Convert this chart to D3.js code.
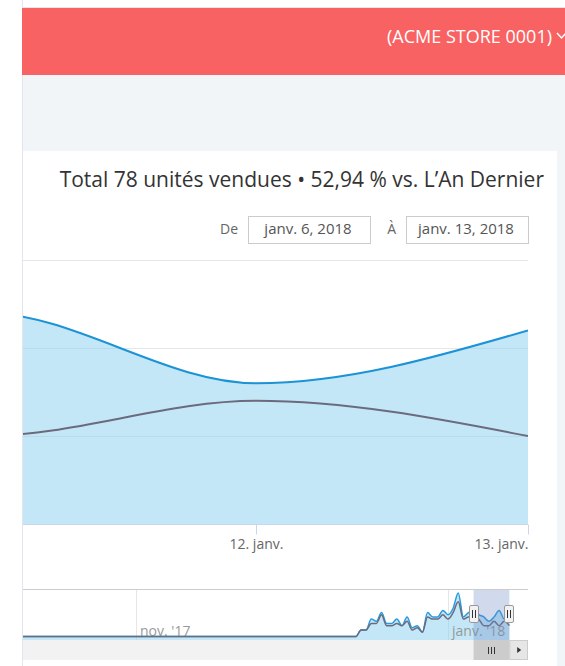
<!DOCTYPE html>
<html>
<head>
<meta charset="utf-8">
<script src="https://cdn.jsdelivr.net/npm/d3@7"></script>
<style>
  body { margin: 0; background: #fff; }
  svg { display: block; font-family: "Open Sans", sans-serif; }
</style>
</head>
<body>
<div id="chart"></div>
<script>
// daily units sold, one value per day starting at firstDay
var firstDay = "2017-12-14";
var unitsThisYear = [0, 3, 3, 8, 7, 11, 6, 6, 8, 5, 9, 4, 5, 2, 11, 9, 9, 12, 10, 13, 20, 9, 11, 12, 10, 9, 7, 9, 12, 8, 11];
var unitsLastYear = [0, 3, 3, 6, 6, 10, 5, 5, 6, 5, 7, 3, 4, 2, 9, 8, 8, 10, 8, 11, 16, 8, 9, 9, 8, 5, 5, 7, 5, 7, 5];
// no sales at all before firstDay
var historyStart = "2017-09-01";

var rangeFrom = "2018-01-06";
var rangeTo = "2018-01-13";
var storeName = "(ACME STORE 0001)";
var yTicks = [0, 5, 10, 15];
var navTicks = ["2017-11-01", "2018-01-01"];
var moisCourts = ["janv.", "févr.", "mars", "avr.", "mai", "juin", "juil.", "août", "sept.", "oct.", "nov.", "déc."];

var parseDate = d3.timeParse("%Y-%m-%d");
var day0 = parseDate(firstDay);

// build the two series as {date, value} rows
var thisYear = [{ date: parseDate(historyStart), value: 0 }];
var lastYear = [{ date: parseDate(historyStart), value: 0 }];
unitsThisYear.forEach(function(v, i) {
    thisYear.push({ date: d3.timeDay.offset(day0, i), value: v });
});
unitsLastYear.forEach(function(v, i) {
    lastYear.push({ date: d3.timeDay.offset(day0, i), value: v });
});

var from = parseDate(rangeFrom);
var to = parseDate(rangeTo);
var inRange = d => d.date >= from && d.date <= to;
var total = d3.sum(thisYear.filter(inRange), d => d.value);
var totalLast = d3.sum(lastYear.filter(inRange), d => d.value);
var pct = ((total / totalLast - 1) * 100).toFixed(2).replace(".", ",");

var svgWidth = 565;
var svgHeight = 666;

var svg = d3.select("#chart")
    .append("svg")
    .attr("width", svgWidth)
    .attr("height", svgHeight);

// page background, header and white panel
svg.append("rect").attr("width", svgWidth).attr("height", svgHeight).attr("fill", "#fff");
svg.append("rect").attr("x", 22).attr("y", 8).attr("width", 543).attr("height", 658).attr("fill", "#f2f5f8");
svg.append("line").attr("x1", 22.5).attr("x2", 22.5).attr("y1", 0).attr("y2", svgHeight).attr("stroke", "#e1e6ec");
svg.append("line").attr("x1", 22).attr("x2", svgWidth).attr("y1", 7.5).attr("y2", 7.5).attr("stroke", "#e1e6ec");
svg.append("rect").attr("x", 22).attr("y", 8).attr("width", 543).attr("height", 67).attr("fill", "#f96262");

svg.append("text")
    .attr("x", 552).attr("y", 43)
    .attr("text-anchor", "end")
    .attr("fill", "#fff")
    .attr("font-size", "18px")
    .text(storeName);
svg.append("path")
    .attr("d", "M557,33 L561.5,38 L566,33")
    .attr("fill", "none").attr("stroke", "#fff").attr("stroke-width", 1.5);

svg.append("rect").attr("x", 23).attr("y", 151).attr("width", 534).attr("height", 515).attr("fill", "#fff");

// title and date range boxes
svg.append("text")
    .attr("x", 544).attr("y", 187)
    .attr("text-anchor", "end")
    .attr("fill", "#333")
    .attr("font-size", "21px")
    .text("Total " + total + " unités vendues • " + pct + " % vs. L’An Dernier");

function longDate(d) {
    return moisCourts[d.getMonth()] + " " + d.getDate() + ", " + d.getFullYear();
}

var boxes = [
    { label: "De", labelX: 238, x: 248, date: from },
    { label: "À", labelX: 396, x: 406, date: to }
];
boxes.forEach(function(b) {
    svg.append("text")
        .attr("x", b.labelX).attr("y", 234)
        .attr("text-anchor", "end")
        .attr("fill", "#666")
        .attr("font-size", "14px")
        .text(b.label);
    svg.append("rect")
        .attr("x", b.x + 0.5).attr("y", 216.5)
        .attr("width", 122).attr("height", 27)
        .attr("fill", "#fff").attr("stroke", "#ccc");
    svg.append("text")
        .attr("x", b.x + 60).attr("y", 234)
        .attr("text-anchor", "middle")
        .attr("fill", "#555")
        .attr("font-size", "15px")
        .text(longDate(b.date));
});

// main chart
var plotLeft = 23, plotRight = 528, plotTop = 260, plotBottom = 524;

var xScale = d3.scaleTime()
    .domain([parseDate("2018-01-12"), parseDate("2018-01-13")])
    .range([256, 528]);
var yScale = d3.scaleLinear()
    .domain([0, 15])
    .range([plotBottom, plotTop]);

svg.append("clipPath").attr("id", "plotClip")
    .append("rect")
    .attr("x", plotLeft).attr("y", plotTop - 10)
    .attr("width", plotRight - plotLeft).attr("height", plotBottom - plotTop + 10);

// gridlines
var grid = svg.append("g")
    .attr("transform", `translate(${plotLeft}, 0)`)
    .call(d3.axisLeft(yScale).tickValues(yTicks).tickSize(-(plotRight - plotLeft)).tickFormat(""));
grid.select(".domain").remove();
grid.selectAll("line").attr("stroke", "#e6e6e6");

var plot = svg.append("g").attr("clip-path", "url(#plotClip)");

var area = d3.area()
    .x(d => xScale(d.date))
    .y0(yScale(0))
    .y1(d => yScale(d.value))
    .curve(d3.curveMonotoneX);
var line = d3.line()
    .x(d => xScale(d.date))
    .y(d => yScale(d.value))
    .curve(d3.curveMonotoneX);

plot.append("path")
    .datum(thisYear)
    .attr("d", area)
    .attr("fill", "#87cfee")
    .attr("fill-opacity", 0.5);
plot.append("path")
    .datum(thisYear)
    .attr("d", line)
    .attr("fill", "none")
    .attr("stroke", "#1b93d6")
    .attr("stroke-width", 2);
plot.append("path")
    .datum(lastYear)
    .attr("d", line)
    .attr("fill", "none")
    .attr("stroke", "#6b6b7d")
    .attr("stroke-width", 2);

// x axis
svg.append("line")
    .attr("x1", plotLeft).attr("x2", plotRight)
    .attr("y1", plotBottom + 0.5).attr("y2", plotBottom + 0.5)
    .attr("stroke", "#ccd6eb");

var xAxis = svg.append("g")
    .attr("transform", `translate(0, ${plotBottom + 0.5})`)
    .call(d3.axisBottom(xScale)
        .tickValues([parseDate("2018-01-12"), parseDate("2018-01-13")])
        .tickSize(10)
        .tickPadding(5)
        .tickFormat(d => d.getDate() + ". " + moisCourts[d.getMonth()]));
xAxis.select(".domain").remove();
xAxis.selectAll("line").attr("stroke", "#ccd6eb");
xAxis.selectAll("text")
    .attr("fill", "#666")
    .attr("font-size", "14px")
    .attr("font-family", "Open Sans, sans-serif");
xAxis.selectAll("text").filter((d, i, n) => i === n.length - 1).attr("text-anchor", "end");

// navigator
var navTop = 590, navBottom = 640;
var xNav = d3.scaleTime()
    .domain([parseDate("2017-11-01"), parseDate("2018-01-01")])
    .range([136, 448]);
var yNav = d3.scaleLinear()
    .domain([0, 20])
    .range([636.5, 593]);

svg.append("clipPath").attr("id", "navClip")
    .append("rect")
    .attr("x", plotLeft).attr("y", navTop)
    .attr("width", plotRight - plotLeft).attr("height", navBottom - navTop);

var nav = svg.append("g").attr("clip-path", "url(#navClip)");

navTicks.forEach(function(t) {
    var x = Math.round(xNav(parseDate(t))) + 0.5;
    nav.append("line")
        .attr("x1", x).attr("x2", x)
        .attr("y1", navTop).attr("y2", navBottom)
        .attr("stroke", "#e6e6e6");
});

var navArea = d3.area()
    .x(d => xNav(d.date))
    .y0(navBottom)
    .y1(d => yNav(d.value))
    .curve(d3.curveMonotoneX);
var navLine = d3.line()
    .x(d => xNav(d.date))
    .y(d => yNav(d.value))
    .curve(d3.curveMonotoneX);

nav.append("path")
    .datum(thisYear)
    .attr("d", navArea)
    .attr("fill", "#87cfee")
    .attr("fill-opacity", 0.5);

navTicks.forEach(function(t) {
    var d = parseDate(t);
    nav.append("text")
        .attr("x", xNav(d) + 4).attr("y", 636)
        .attr("fill", "#999")
        .attr("font-size", "14px")
        .text(moisCourts[d.getMonth()] + " '" + String(d.getFullYear()).slice(2));
});

nav.append("path")
    .datum(thisYear)
    .attr("d", navLine)
    .attr("fill", "none")
    .attr("stroke", "#2a9be0")
    .attr("stroke-width", 1.5);
nav.append("path")
    .datum(lastYear)
    .attr("d", navLine)
    .attr("fill", "none")
    .attr("stroke", "#6b6b7d")
    .attr("stroke-width", 1.5);

svg.append("line")
    .attr("x1", plotLeft).attr("x2", plotRight)
    .attr("y1", navTop - 0.5).attr("y2", navTop - 0.5)
    .attr("stroke", "#ccc");

// selected range mask and handles
var m0 = xNav(from), m1 = xNav(to);
svg.append("rect")
    .attr("x", m0).attr("y", navTop)
    .attr("width", m1 - m0).attr("height", navBottom - navTop)
    .attr("fill", "rgba(102,133,194,0.3)");

[m0, m1].forEach(function(hx) {
    var g = svg.append("g").attr("transform", `translate(${Math.round(hx)}, 614)`);
    g.append("rect")
        .attr("x", -4.5).attr("y", -8.5)
        .attr("width", 9).attr("height", 17)
        .attr("rx", 1.5)
        .attr("fill", "#f2f2f2").attr("stroke", "#999");
    g.append("path")
        .attr("d", "M-1.5,-4 V4 M1.5,-4 V4")
        .attr("stroke", "#333").attr("stroke-width", 1);
});

// scrollbar
svg.append("rect")
    .attr("x", plotLeft).attr("y", navBottom)
    .attr("width", plotRight - plotLeft).attr("height", 20)
    .attr("fill", "#f2f2f2");
svg.append("rect")
    .attr("x", m0).attr("y", navBottom)
    .attr("width", m1 - m0).attr("height", 20)
    .attr("fill", "#ccc");
var cx = Math.round((m0 + m1) / 2);
svg.append("path")
    .attr("d", `M${cx - 2.5},${navBottom + 7} v7 M${cx + 0.5},${navBottom + 7} v7 M${cx + 3.5},${navBottom + 7} v7`)
    .attr("stroke", "#333").attr("stroke-width", 1);
svg.append("rect")
    .attr("x", m1 + 0.5).attr("y", navBottom + 0.5)
    .attr("width", plotRight - m1 - 1).attr("height", 19)
    .attr("fill", "#e6e6e6").attr("stroke", "#ccc");
var bx = (m1 + plotRight) / 2;
svg.append("path")
    .attr("d", `M${bx - 1.5},${navBottom + 7} L${bx + 2.5},${navBottom + 10} L${bx - 1.5},${navBottom + 13} Z`)
    .attr("fill", "#333");
</script>
</body>
</html>
